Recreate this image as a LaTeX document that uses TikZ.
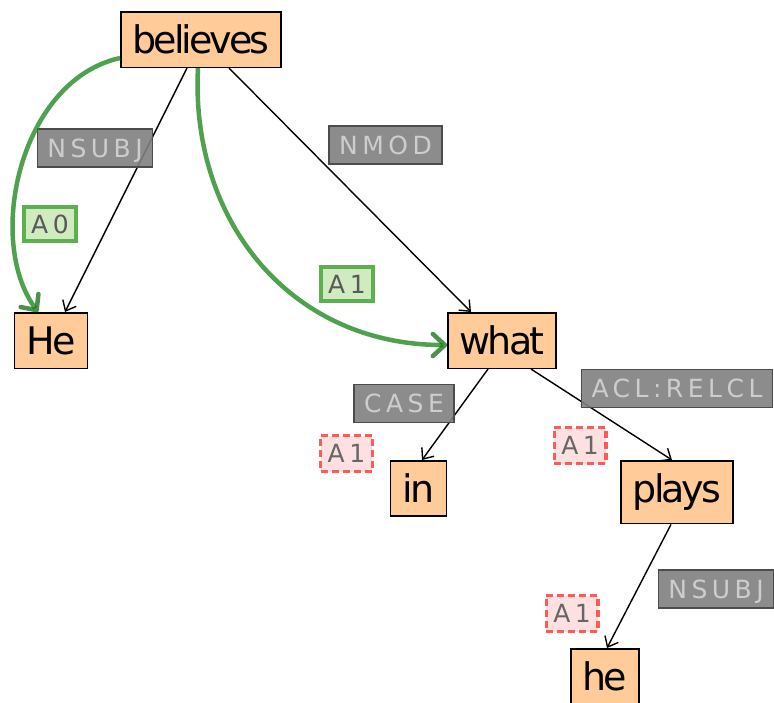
\documentclass[tikz,border=0pt]{standalone}
\usepackage{fontspec}
\setmainfont{DejaVu Sans}
\newfontfamily\wordfont[LetterSpace=-8]{DejaVu Sans}
\newfontfamily\tagfont[LetterSpace=18]{DejaVu Sans}
\usetikzlibrary{arrows.meta}
\definecolor{wordbg}{RGB}{255,204,153}
\definecolor{tagbg}{RGB}{128,128,128}
\definecolor{tagfg}{RGB}{205,205,205}
\definecolor{goodbg}{RGB}{208,235,192}
\definecolor{goodline}{RGB}{34,139,34}
\definecolor{goodedge}{RGB}{92,176,80}
\definecolor{badbg}{RGB}{253,224,224}
\definecolor{badline}{RGB}{255,90,90}
\tikzset{
  word/.style={draw,line width=1.5pt,fill=wordbg,anchor=north,inner xsep=12pt,inner ysep=13pt,
    text height=29pt,font=\wordfont\fontsize{38}{40}\selectfont},
  dep/.style={draw=black!70,line width=1.5pt,fill=tagbg,fill opacity=.9,text opacity=1,text=tagfg,
    inner xsep=10pt,inner ysep=10pt,text height=18pt,text depth=0pt,font=\tagfont\fontsize{25}{26}\selectfont},
  good/.style={draw=goodedge,line width=4.5pt,fill=goodbg,text=black!65,
    inner xsep=7pt,inner ysep=8pt,text height=18pt,text depth=0pt,font=\tagfont\fontsize{25}{26}\selectfont},
  bad/.style={draw=badline,dashed,dash pattern=on 7pt off 4pt,line width=3.5pt,fill=badbg,text=black!60,
    inner xsep=7pt,inner ysep=9pt,text height=18pt,text depth=0pt,font=\tagfont\fontsize{25}{26}\selectfont},
  arg/.style={draw=goodline,draw opacity=.8,line width=4.5pt,
    -{Straight Barb[length=12pt,width=22pt,line width=4.5pt,round,color=goodline!85!black]}},
  link/.style={->,line width=1.4pt},
}
\begin{document}
\begin{tikzpicture}[x=1pt,y=-1pt,>={Straight Barb[length=9pt,width=15pt,line width=1.4pt]}]
\useasboundingbox (0,0) rectangle (774,702);
% the sentence
\node[word](believes) at (201,11){believes};
\node[word](He) at (51,312){He};
\node[word](what) at (502,312){what};
\node[word](in) at (418.5,460){in};
\node[word](plays) at (677,460){plays};
\node[word](he) at (605,648){he};
% dependencies
\draw[link]([xshift=-14pt]believes.south)--([xshift=14pt]He.north);
\draw[link]([xshift=28pt]believes.south)--([xshift=-31pt]what.north);
\draw[link]([xshift=-14pt]what.south)--([xshift=3.5pt]in.north);
\draw[link]([xshift=29pt]what.south)--([xshift=-5pt]plays.north);
\draw[link]([xshift=-6pt]plays.south)--([xshift=2pt]he.north);
\node[dep](nsubj) at (95,148){NSUBJ};
\node[dep](nmod) at (385.5,145){NMOD};
\node[dep](case) at (404,403.5){CASE};
\node[dep](relcl) at (677,388.5){ACL:RELCL};
\node[dep](nsubjb) at (716,589){NSUBJ};
% arguments
\draw[arg]([yshift=-18.5pt]believes.west) .. controls (20,80) and (-15,240) .. ([xshift=-13pt]He.north);
\draw[arg]([xshift=-3pt]believes.south) .. controls (190,220) and (290,345) .. ([yshift=-4.5pt]what.west);
\node[good](a0) at (50,224){A0};
\node[good](a1) at (347,284){A1};
\node[bad](a1in) at (346.5,453.5){A1};
\node[bad](a1plays) at (580,445.5){A1};
\node[bad](a1he) at (572,613.5){A1};
\end{tikzpicture}
\end{document}
